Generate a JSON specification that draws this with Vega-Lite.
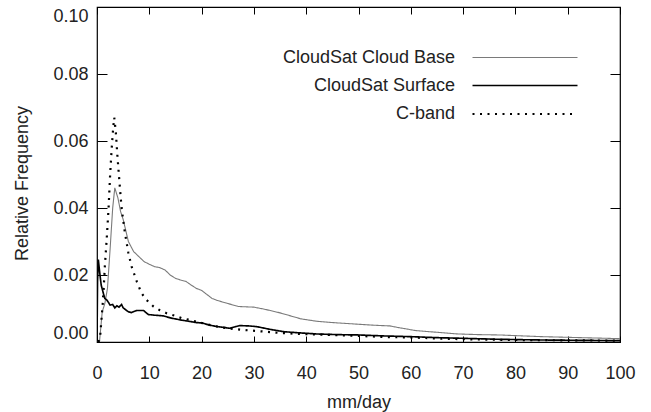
{
  "$schema": "https://vega.github.io/schema/vega-lite/v6.json",
  "width": 523,
  "height": 335,
  "autosize": {"type": "none"},
  "padding": {"left": 97, "top": 7, "right": 31, "bottom": 70},
  "background": "white",
  "config": {
    "view": {"stroke": "black", "strokeWidth": 1.2},
    "font": "Liberation Sans",
    "axis": {
      "labelFont": "Liberation Sans", "titleFont": "Liberation Sans",
      "labelFontSize": 18, "titleFontSize": 18,
      "labelColor": "#222", "titleColor": "#222", "titleFontWeight": "normal",
      "grid": false, "domain": false, "tickColor": "black", "tickWidth": 1
    }
  },
  "data": {"values": [
    {"s": "CloudSat Cloud Base", "x": 0, "y": 0},
    {"s": "CloudSat Cloud Base", "x": 0.5, "y": 0.0005},
    {"s": "CloudSat Cloud Base", "x": 1.0, "y": 0.009},
    {"s": "CloudSat Cloud Base", "x": 1.5, "y": 0.0115},
    {"s": "CloudSat Cloud Base", "x": 2.0, "y": 0.016},
    {"s": "CloudSat Cloud Base", "x": 2.5, "y": 0.0276},
    {"s": "CloudSat Cloud Base", "x": 3.0, "y": 0.040},
    {"s": "CloudSat Cloud Base", "x": 3.4, "y": 0.046},
    {"s": "CloudSat Cloud Base", "x": 4.0, "y": 0.043},
    {"s": "CloudSat Cloud Base", "x": 4.5, "y": 0.039},
    {"s": "CloudSat Cloud Base", "x": 5.0, "y": 0.0366},
    {"s": "CloudSat Cloud Base", "x": 6.0, "y": 0.030},
    {"s": "CloudSat Cloud Base", "x": 7.0, "y": 0.027},
    {"s": "CloudSat Cloud Base", "x": 8.0, "y": 0.0255},
    {"s": "CloudSat Cloud Base", "x": 9.0, "y": 0.024},
    {"s": "CloudSat Cloud Base", "x": 10.0, "y": 0.0232},
    {"s": "CloudSat Cloud Base", "x": 11.0, "y": 0.0225},
    {"s": "CloudSat Cloud Base", "x": 12.0, "y": 0.0222},
    {"s": "CloudSat Cloud Base", "x": 13.0, "y": 0.0215},
    {"s": "CloudSat Cloud Base", "x": 14.0, "y": 0.020},
    {"s": "CloudSat Cloud Base", "x": 15.0, "y": 0.019},
    {"s": "CloudSat Cloud Base", "x": 16.0, "y": 0.0185},
    {"s": "CloudSat Cloud Base", "x": 17.0, "y": 0.0181},
    {"s": "CloudSat Cloud Base", "x": 18.0, "y": 0.017},
    {"s": "CloudSat Cloud Base", "x": 19.0, "y": 0.016},
    {"s": "CloudSat Cloud Base", "x": 20.0, "y": 0.0154},
    {"s": "CloudSat Cloud Base", "x": 21.0, "y": 0.0142},
    {"s": "CloudSat Cloud Base", "x": 22.0, "y": 0.013},
    {"s": "CloudSat Cloud Base", "x": 23.0, "y": 0.0124},
    {"s": "CloudSat Cloud Base", "x": 25.0, "y": 0.0115},
    {"s": "CloudSat Cloud Base", "x": 27.0, "y": 0.0106},
    {"s": "CloudSat Cloud Base", "x": 30.0, "y": 0.0104},
    {"s": "CloudSat Cloud Base", "x": 32.0, "y": 0.0098},
    {"s": "CloudSat Cloud Base", "x": 35.0, "y": 0.0087},
    {"s": "CloudSat Cloud Base", "x": 37.0, "y": 0.0078},
    {"s": "CloudSat Cloud Base", "x": 39.0, "y": 0.0069},
    {"s": "CloudSat Cloud Base", "x": 42.0, "y": 0.0062},
    {"s": "CloudSat Cloud Base", "x": 45.0, "y": 0.0058},
    {"s": "CloudSat Cloud Base", "x": 47.0, "y": 0.0056},
    {"s": "CloudSat Cloud Base", "x": 50.0, "y": 0.0053},
    {"s": "CloudSat Cloud Base", "x": 53.0, "y": 0.0050},
    {"s": "CloudSat Cloud Base", "x": 56.0, "y": 0.0048},
    {"s": "CloudSat Cloud Base", "x": 58.0, "y": 0.0042},
    {"s": "CloudSat Cloud Base", "x": 61.0, "y": 0.0034},
    {"s": "CloudSat Cloud Base", "x": 65.0, "y": 0.0029},
    {"s": "CloudSat Cloud Base", "x": 69.0, "y": 0.0024},
    {"s": "CloudSat Cloud Base", "x": 73.0, "y": 0.0022},
    {"s": "CloudSat Cloud Base", "x": 77.0, "y": 0.0021},
    {"s": "CloudSat Cloud Base", "x": 80.0, "y": 0.0019},
    {"s": "CloudSat Cloud Base", "x": 85.0, "y": 0.0016},
    {"s": "CloudSat Cloud Base", "x": 90.0, "y": 0.0014},
    {"s": "CloudSat Cloud Base", "x": 95.0, "y": 0.0012},
    {"s": "CloudSat Cloud Base", "x": 100.0, "y": 0.0010},
    {"s": "CloudSat Surface", "x": 0, "y": 0},
    {"s": "CloudSat Surface", "x": 0.1, "y": 0.018},
    {"s": "CloudSat Surface", "x": 0.25, "y": 0.0246},
    {"s": "CloudSat Surface", "x": 0.5, "y": 0.021},
    {"s": "CloudSat Surface", "x": 0.8, "y": 0.017},
    {"s": "CloudSat Surface", "x": 1.2, "y": 0.0146},
    {"s": "CloudSat Surface", "x": 1.5, "y": 0.013},
    {"s": "CloudSat Surface", "x": 1.85, "y": 0.0126},
    {"s": "CloudSat Surface", "x": 2.2, "y": 0.0118},
    {"s": "CloudSat Surface", "x": 2.5, "y": 0.011},
    {"s": "CloudSat Surface", "x": 3.0, "y": 0.0112},
    {"s": "CloudSat Surface", "x": 3.4, "y": 0.0102},
    {"s": "CloudSat Surface", "x": 3.8, "y": 0.0108},
    {"s": "CloudSat Surface", "x": 4.2, "y": 0.0104},
    {"s": "CloudSat Surface", "x": 4.7, "y": 0.0112},
    {"s": "CloudSat Surface", "x": 5.0, "y": 0.0102},
    {"s": "CloudSat Surface", "x": 5.5, "y": 0.0096},
    {"s": "CloudSat Surface", "x": 6.0, "y": 0.009},
    {"s": "CloudSat Surface", "x": 6.6, "y": 0.0088},
    {"s": "CloudSat Surface", "x": 7.2, "y": 0.0092},
    {"s": "CloudSat Surface", "x": 7.6, "y": 0.0094},
    {"s": "CloudSat Surface", "x": 8.3, "y": 0.0094},
    {"s": "CloudSat Surface", "x": 8.9, "y": 0.0094},
    {"s": "CloudSat Surface", "x": 9.8, "y": 0.0082},
    {"s": "CloudSat Surface", "x": 11.0, "y": 0.008},
    {"s": "CloudSat Surface", "x": 12.7, "y": 0.0078},
    {"s": "CloudSat Surface", "x": 14.0, "y": 0.0072},
    {"s": "CloudSat Surface", "x": 15.9, "y": 0.0066},
    {"s": "CloudSat Surface", "x": 17.5, "y": 0.0062},
    {"s": "CloudSat Surface", "x": 19.0, "y": 0.0058},
    {"s": "CloudSat Surface", "x": 20.0, "y": 0.0057},
    {"s": "CloudSat Surface", "x": 21.6, "y": 0.005},
    {"s": "CloudSat Surface", "x": 23.0, "y": 0.0046},
    {"s": "CloudSat Surface", "x": 25.4, "y": 0.0041},
    {"s": "CloudSat Surface", "x": 26.5, "y": 0.0046},
    {"s": "CloudSat Surface", "x": 27.3, "y": 0.0049},
    {"s": "CloudSat Surface", "x": 29.0, "y": 0.0048},
    {"s": "CloudSat Surface", "x": 30.5, "y": 0.0046},
    {"s": "CloudSat Surface", "x": 33.0, "y": 0.0038},
    {"s": "CloudSat Surface", "x": 35.6, "y": 0.0031},
    {"s": "CloudSat Surface", "x": 38.0, "y": 0.0028},
    {"s": "CloudSat Surface", "x": 42.0, "y": 0.0024},
    {"s": "CloudSat Surface", "x": 46.0, "y": 0.0022},
    {"s": "CloudSat Surface", "x": 50.0, "y": 0.0021},
    {"s": "CloudSat Surface", "x": 55.0, "y": 0.0018},
    {"s": "CloudSat Surface", "x": 60.0, "y": 0.0016},
    {"s": "CloudSat Surface", "x": 65.0, "y": 0.0013},
    {"s": "CloudSat Surface", "x": 70.0, "y": 0.0011},
    {"s": "CloudSat Surface", "x": 77.0, "y": 0.0008},
    {"s": "CloudSat Surface", "x": 85.0, "y": 0.0006},
    {"s": "CloudSat Surface", "x": 92.0, "y": 0.0005},
    {"s": "CloudSat Surface", "x": 100.0, "y": 0.0004},
    {"s": "C-band", "x": 0.3, "y": 0},
    {"s": "C-band", "x": 0.6, "y": 0.0016},
    {"s": "C-band", "x": 0.9, "y": 0.0076},
    {"s": "C-band", "x": 1.2, "y": 0.0136},
    {"s": "C-band", "x": 1.5, "y": 0.0226},
    {"s": "C-band", "x": 1.85, "y": 0.0306},
    {"s": "C-band", "x": 2.2, "y": 0.0396},
    {"s": "C-band", "x": 2.5, "y": 0.0496},
    {"s": "C-band", "x": 2.8, "y": 0.0576},
    {"s": "C-band", "x": 3.1, "y": 0.064},
    {"s": "C-band", "x": 3.3, "y": 0.067},
    {"s": "C-band", "x": 3.6, "y": 0.0626},
    {"s": "C-band", "x": 3.9, "y": 0.0556},
    {"s": "C-band", "x": 4.3, "y": 0.0476},
    {"s": "C-band", "x": 4.7, "y": 0.040},
    {"s": "C-band", "x": 5.3, "y": 0.033},
    {"s": "C-band", "x": 6.0, "y": 0.0266},
    {"s": "C-band", "x": 6.6, "y": 0.0226},
    {"s": "C-band", "x": 7.6, "y": 0.0181},
    {"s": "C-band", "x": 8.5, "y": 0.0146},
    {"s": "C-band", "x": 9.5, "y": 0.0125},
    {"s": "C-band", "x": 10.8, "y": 0.0106},
    {"s": "C-band", "x": 12.0, "y": 0.0095},
    {"s": "C-band", "x": 13.3, "y": 0.0086},
    {"s": "C-band", "x": 15.0, "y": 0.0078},
    {"s": "C-band", "x": 16.2, "y": 0.0071},
    {"s": "C-band", "x": 18.0, "y": 0.0065},
    {"s": "C-band", "x": 19.0, "y": 0.0061},
    {"s": "C-band", "x": 21.0, "y": 0.0053},
    {"s": "C-band", "x": 23.0, "y": 0.0046},
    {"s": "C-band", "x": 25.0, "y": 0.0041},
    {"s": "C-band", "x": 28.0, "y": 0.0036},
    {"s": "C-band", "x": 32.0, "y": 0.0031},
    {"s": "C-band", "x": 35.0, "y": 0.0027},
    {"s": "C-band", "x": 39.0, "y": 0.0024},
    {"s": "C-band", "x": 45.0, "y": 0.0021},
    {"s": "C-band", "x": 50.0, "y": 0.0018},
    {"s": "C-band", "x": 55.0, "y": 0.0015},
    {"s": "C-band", "x": 61.0, "y": 0.0013},
    {"s": "C-band", "x": 66.0, "y": 0.001},
    {"s": "C-band", "x": 71.0, "y": 0.0008},
    {"s": "C-band", "x": 80.0, "y": 0.0006},
    {"s": "C-band", "x": 90.0, "y": 0.0005},
    {"s": "C-band", "x": 100.0, "y": 0.0004}
  ]},
  "layer": [
    {
      "mark": {"type": "line", "interpolate": "linear", "strokeCap": "butt", "clip": true},
      "encoding": {
        "x": {
          "field": "x", "type": "quantitative",
          "scale": {"domain": [0, 100], "nice": false, "zero": false},
          "axis": {
            "orient": "bottom", "values": [0, 10, 20, 30, 40, 50, 60, 70, 80, 90, 100],
            "tickSize": -6, "labelPadding": 42, "labelBaseline": "alphabetic", "labelFlush": false,
            "title": "mm/day", "titleBaseline": "alphabetic", "titleY": 65
          }
        },
        "y": {
          "field": "y", "type": "quantitative",
          "scale": {"domain": [0, 0.1], "nice": false, "zero": false},
          "axis": {
            "orient": "left", "values": [0, 0.02, 0.04, 0.06, 0.08, 0.1], "format": ".2f",
            "tickSize": -10, "labelPadding": 19, "labelFlush": true,
            "title": "Relative Frequency", "titleX": -66, "titleY": 176
          }
        },
        "color": {
          "field": "s", "type": "nominal",
          "scale": {"domain": ["CloudSat Cloud Base", "CloudSat Surface", "C-band"], "range": ["#7a7a7a", "#000000", "#000000"]},
          "legend": {
            "orient": "none", "legendX": 416, "legendY": 39, "title": null,
            "symbolType": "M-5,0H5", "symbolSize": 441, "labelAlign": "right", "labelOffset": -82,
            "labelFontSize": 18, "labelFont": "Liberation Sans", "labelColor": "#222", "rowPadding": 7, "labelLimit": 0
          }
        },
        "strokeDash": {
          "field": "s", "type": "nominal",
          "scale": {"domain": ["CloudSat Cloud Base", "CloudSat Surface", "C-band"], "range": [[1, 0], [1, 0], [2, 5.5]]},
          "legend": {
            "orient": "none", "legendX": 416, "legendY": 39, "title": null,
            "symbolType": "M-5,0H5", "symbolSize": 441, "labelAlign": "right", "labelOffset": -82,
            "labelFontSize": 18, "labelFont": "Liberation Sans", "labelColor": "#222", "rowPadding": 7, "labelLimit": 0
          }
        },
        "strokeWidth": {
          "field": "s", "type": "nominal",
          "scale": {"domain": ["CloudSat Cloud Base", "CloudSat Surface", "C-band"], "range": [1.1, 2.2, 2.2]},
          "legend": {
            "orient": "none", "legendX": 416, "legendY": 39, "title": null,
            "symbolType": "M-5,0H5", "symbolSize": 441, "labelAlign": "right", "labelOffset": -82,
            "labelFontSize": 18, "labelFont": "Liberation Sans", "labelColor": "#222", "rowPadding": 7, "labelLimit": 0
          }
        }
      }
    },
    {
      "mark": {"type": "point", "opacity": 0},
      "encoding": {
        "x": {
          "field": "x", "type": "quantitative",
          "axis": {"orient": "top", "values": [0, 10, 20, 30, 40, 50, 60, 70, 80, 90, 100], "tickSize": -7, "labels": false, "title": null}
        },
        "y": {
          "field": "y", "type": "quantitative",
          "axis": {"orient": "right", "values": [0, 0.02, 0.04, 0.06, 0.08, 0.1], "tickSize": -10, "labels": false, "title": null}
        }
      }
    }
  ],
  "resolve": {"axis": {"x": "independent", "y": "independent"}}
}
